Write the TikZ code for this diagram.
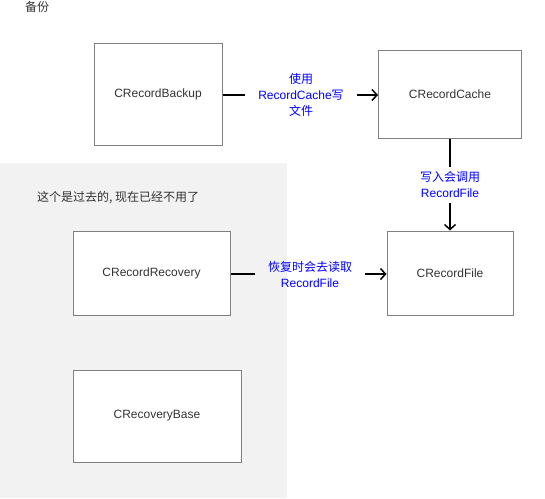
\documentclass[tikz,border=0pt]{standalone}
\usepackage{fontspec}
\setmainfont{Liberation Sans}
\newfontfamily\cjk{Noto Sans CJK SC}
\usetikzlibrary{arrows.meta}
\definecolor{boxline}{HTML}{808080}
\definecolor{bggray}{HTML}{F2F2F2}
\definecolor{txt}{HTML}{333333}
\definecolor{lblblue}{HTML}{0000FF}
\begin{document}
\begin{tikzpicture}[x=1pt,y=-1pt,
  box/.style={draw=boxline, line width=1pt, fill=white, text=txt, font=\fontsize{12}{15}\selectfont, inner sep=0pt},
  lbl/.style={text=lblblue, align=center, font=\fontsize{12}{16}\selectfont, inner xsep=13pt, inner ysep=4pt},
  plain/.style={text=txt, font=\fontsize{12}{15}\selectfont, anchor=west, inner sep=0pt},
  conn/.style={line width=1.5pt, black},
  tip/.style={conn, -{Straight Barb[length=5pt,width=11pt,line width=1.5pt]}}
]
\useasboundingbox (0,0) rectangle (545,498);
\fill[bggray] (0,163) rectangle (287,498);

\node[plain] (t1) at (25,7) {\cjk 备份};
\node[plain] (t2) at (37,198) {\cjk 这个是过去的, 现在已经不用了};

\node[box, minimum width=128pt, minimum height=102pt] (backup) at (158,94) {CRecordBackup};
\node[box, minimum width=143pt, minimum height=88pt] (cache) at (450,94) {CRecordCache};
\node[box, minimum width=157pt, minimum height=84pt] (recovery) at (151.5,273) {CRecordRecovery};
\node[box, minimum width=126pt, minimum height=84pt] (file) at (450,273) {CRecordFile};
\node[box, minimum width=168pt, minimum height=92pt] (base) at (157,416) {CRecoveryBase};

\node[lbl] (l1) at (301,95) {{\cjk 使用}\\RecordCache{\cjk 写}\\{\cjk 文件}};
\node[lbl, inner ysep=5pt] (l2) at (450,185) {{\cjk 写入会调用}\\RecordFile};
\node[lbl] (l3) at (310,274) {{\cjk 恢复时会去读取}\\RecordFile};

\draw[conn] (backup.east |- l1) -- (l1);
\draw[tip] (l1) -- (cache.west |- l1);
\draw[conn] (cache) -- (l2);
\draw[tip] (l2) -- (file);
\draw[conn] (recovery.east |- l3) -- (l3);
\draw[tip] (l3) -- (file.west |- l3);
\end{tikzpicture}
\end{document}
